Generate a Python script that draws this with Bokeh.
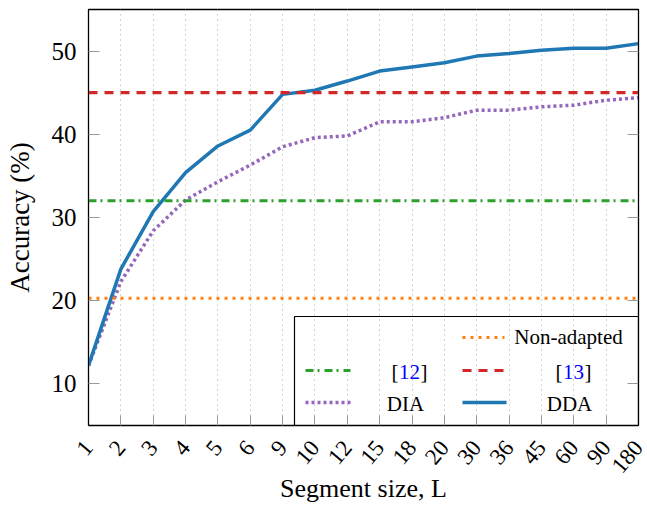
import math
from bokeh.plotting import figure
from bokeh.models import (FixedTicker, LinearAxis, Range1d, Span, BoxAnnotation,
                          Label, Arrow)
from bokeh.embed import file_html
from bokeh.resources import INLINE

# ---- data ----
segment_sizes = ["1", "2", "3", "4", "5", "6", "9", "10", "12", "15", "18",
                 "20", "30", "36", "45", "60", "90", "180"]
dda = [12.2, 23.8, 30.7, 35.4, 38.6, 40.5, 44.8, 45.3, 46.4, 47.6, 48.1,
       48.6, 49.4, 49.7, 50.1, 50.35, 50.35, 50.9]
dia = [12.2, 22.3, 28.4, 32.1, 34.3, 36.3, 38.5, 39.6, 39.8, 41.5, 41.5,
       42.0, 42.9, 42.9, 43.3, 43.5, 44.1, 44.4]
non_adapted = 20.3
ref12 = 32.0
ref13 = 45.0
y_ticks = [10, 20, 30, 40, 50]

x_idx = list(range(len(segment_sizes)))

BLUE = "#1f77b4"
ORANGE = "#ff7f0e"
GREEN = "#2ca02c"
RED = "#d62728"
PURPLE = "#9467bd"
FONT = "Liberation Serif"

p = figure(frame_width=550, frame_height=416,
           x_range=Range1d(x_idx[0], x_idx[-1]), y_range=Range1d(5, 55),
           output_backend="svg", toolbar_location=None,
           min_border_left=88, min_border_top=9, min_border_right=8,
           min_border_bottom=5)

p.outline_line_color = "black"
p.outline_line_width = 1.3
p.outline_line_alpha = 1

# axes
xa = p.xaxis[0]
xa.ticker = FixedTicker(ticks=x_idx)
xa.major_label_overrides = {i: s for i, s in zip(x_idx, segment_sizes)}
xa.major_label_orientation = math.radians(50)
xa.minor_tick_line_color = None
xa.major_tick_in = 10
xa.major_tick_out = 0
xa.major_tick_line_color = "#999999"
xa.axis_line_color = "black"
xa.major_label_text_font = FONT
xa.major_label_text_font_size = "23px"
xa.major_label_text_color = "black"
xa.major_label_standoff = 18
xa.axis_label = "Segment size, L"
xa.axis_label_text_font = FONT
xa.axis_label_text_font_size = "26px"
xa.axis_label_text_font_style = "normal"
xa.axis_label_text_color = "black"
xa.axis_label_standoff = -9

ya = p.yaxis[0]
ya.ticker = FixedTicker(ticks=y_ticks)
ya.minor_tick_line_color = None
ya.major_tick_in = 11
ya.major_tick_out = 0
ya.major_tick_line_color = "#999999"
ya.axis_line_color = "black"
ya.major_label_text_font = FONT
ya.major_label_text_font_size = "25px"
ya.major_label_text_color = "black"
ya.major_label_standoff = 12
ya.axis_label = "Accuracy (%)"
ya.axis_label_text_font = FONT
ya.axis_label_text_font_size = "27px"
ya.axis_label_text_font_style = "normal"
ya.axis_label_text_color = "black"
ya.axis_label_standoff = 14

ra = LinearAxis(ticker=FixedTicker(ticks=y_ticks))
ra.major_label_overrides = {t: "" for t in y_ticks}
ra.minor_tick_line_color = None
ra.major_tick_in = 11
ra.major_tick_out = 0
ra.major_tick_line_color = "#999999"
ra.axis_line_color = "black"
ra.major_label_standoff = 0
p.add_layout(ra, "right")

p.xgrid.ticker = FixedTicker(ticks=x_idx)
p.xgrid.grid_line_color = "#aaaaaa"
p.xgrid.grid_line_dash = "1 4"
p.xgrid.grid_line_width = 1
p.ygrid.visible = False

DOT_OR = "3 5"
DASHDOT = "8 4 2 5"
DASH = "9 7"
DOT_PU = "3 3"

# horizontal reference lines
p.add_layout(Span(location=non_adapted, dimension="width", line_color=ORANGE,
                  line_width=3, line_dash=DOT_OR, level="glyph"))
p.add_layout(Span(location=ref12, dimension="width", line_color=GREEN,
                  line_width=3, line_dash=DASHDOT, level="glyph"))
p.add_layout(Span(location=ref13, dimension="width", line_color=RED,
                  line_width=3.2, line_dash=DASH, level="glyph"))

p.line(x_idx, dia, line_color=PURPLE, line_width=3.5, line_dash=DOT_PU)
p.line(x_idx, dda, line_color=BLUE, line_width=3.5)

# legend (manual, frame-relative screen units)
p.add_layout(BoxAnnotation(left=206, right=550, bottom=0, top=109,
                           left_units="screen", right_units="screen",
                           top_units="screen", bottom_units="screen",
                           fill_alpha=0, line_color="black", line_alpha=1,
                           line_width=1.2))

def sample(x0, x1, y, color, dash, lw=3):
    p.add_layout(Arrow(end=None, x_start=x0, y_start=y, x_end=x1, y_end=y,
                       start_units="screen", end_units="screen",
                       line_color=color, line_width=lw, line_dash=dash))

def text(x, y, t, color="black", align="center"):
    p.add_layout(Label(x=x, y=y, x_units="screen", y_units="screen", text=t,
                       text_font=FONT, text_font_size="21px", text_color=color,
                       text_align=align, text_baseline="middle"))

sample(374, 416, 88, ORANGE, DOT_OR)
text(480, 89, "Non-adapted")
sample(217, 262, 55, GREEN, DASHDOT)
text(310, 54, "[", align="right")
text(321, 54, "12", color="blue")
text(332, 54, "]", align="left")
sample(374, 416, 55, RED, DASH)
text(474, 54, "[", align="right")
text(485, 54, "13", color="blue")
text(496, 54, "]", align="left")
sample(217, 262, 23, PURPLE, DOT_PU, 3.5)
text(317, 22, "DIA")
sample(374, 418, 23, BLUE, "solid", 3.5)
text(481, 22, "DDA")

open("out.html", "w").write(file_html(p, INLINE))
